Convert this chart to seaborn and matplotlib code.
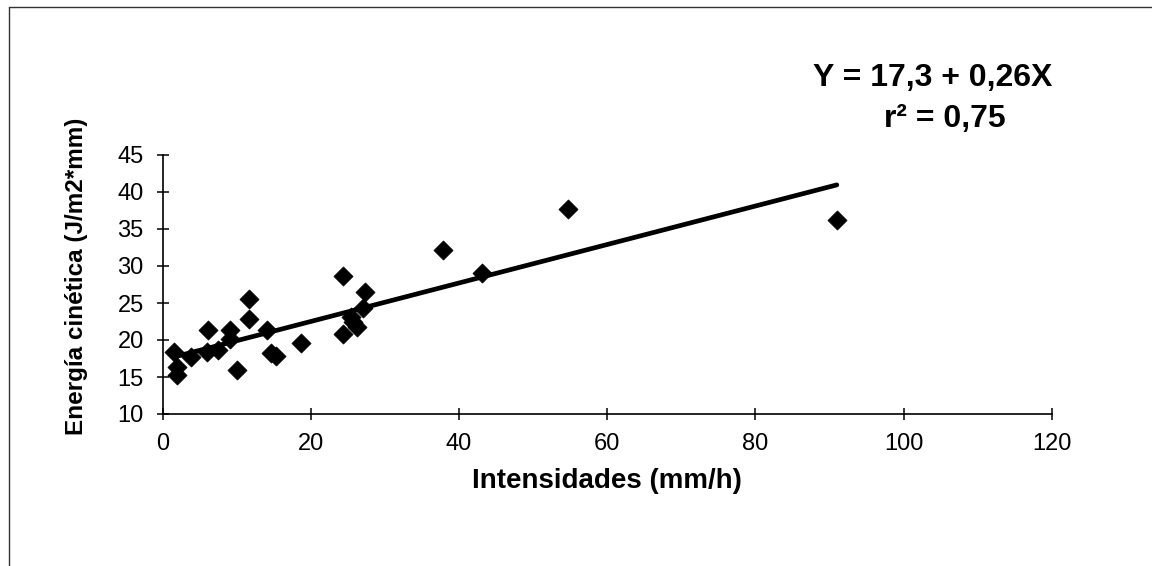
import matplotlib
matplotlib.use("Agg")
import matplotlib.pyplot as plt
from matplotlib.lines import Line2D
import numpy as np
import pandas as pd
import seaborn as sns

# ---- data ----
intensidad = [1.5, 1.9, 2.0, 3.9, 6.2, 6.0, 7.5, 9.1, 9.1, 10.1, 11.7, 11.7,
              14.1, 14.7, 15.3, 18.7, 24.4, 24.4, 25.5, 25.7, 26.2, 27.1, 27.3,
              37.9, 43.1, 54.7, 91.0]
energia = [18.4, 16.4, 15.3, 17.7, 21.4, 18.4, 18.6, 21.4, 20.1, 16.0, 25.6, 22.9,
           21.4, 18.3, 17.9, 19.6, 28.6, 20.8, 23.1, 22.5, 21.7, 24.3, 26.5,
           32.2, 29.0, 37.7, 36.2]
intercept = 17.3
slope = 0.26
x_ticks = [0, 20, 40, 60, 80, 100, 120]
y_ticks = [10, 15, 20, 25, 30, 35, 40, 45]
eq_text = "Y = 17,3 + 0,26X"
r2_text = "r² = 0,75"
x_title = "Intensidades (mm/h)"
y_title = "Energía cinética (J/m2*mm)"

sns.set_theme(style="white")
plt.rcParams["font.family"] = ["Liberation Sans", "DejaVu Sans"]

df = pd.DataFrame({"x": intensidad, "y": energia})
xline = np.array([min(intensidad), max(intensidad)])
line_df = pd.DataFrame({"x": xline, "y": intercept + slope * xline})

W, H = 1152, 566
fig = plt.figure(figsize=(W / 100, H / 100), dpi=100)
fig.patch.set_facecolor("white")
x0, x1 = 162.5, 1051.7
y0, y1 = 414, 155
ax = fig.add_axes([x0 / W, 1 - y0 / H, (x1 - x0) / W, (y0 - y1) / H])
ax.set_facecolor("white")

sns.lineplot(data=line_df, x="x", y="y", ax=ax, color="black", linewidth=3.4)
sns.scatterplot(data=df, x="x", y="y", ax=ax, marker="D", s=95, color="black",
                edgecolor="black", linewidth=0.5, zorder=3)

ax.set_xlim(0, 120)
ax.set_ylim(10, 45)
ax.set_xticks(x_ticks)
ax.set_yticks(y_ticks)
ax.set_xticklabels([str(t) for t in x_ticks])
ax.set_yticklabels([str(t) for t in y_ticks])
for s in ["top", "right"]:
    ax.spines[s].set_visible(False)
for s in ["left", "bottom"]:
    ax.spines[s].set_color("black")
    ax.spines[s].set_linewidth(1.2)
ax.tick_params(axis="x", direction="inout", length=9, width=1.1, color="black",
               labelsize=17, pad=9, labelcolor="black", bottom=True)
ax.tick_params(axis="y", direction="inout", length=9, width=1.1, color="black",
               labelsize=17, pad=9, labelcolor="black", left=True)

ax.set_xlabel(x_title, fontsize=20, fontweight="bold", color="black")
ax.set_ylabel(y_title, fontsize=17.5, fontweight="bold", color="black")
ax.xaxis.set_label_coords(0.5, -(468 - y0) / (y0 - y1))
ax.yaxis.set_label_coords(-(x0 - 88) / (x1 - x0), 0.53)

fig.text(933 / W, 1 - 78 / H, eq_text, ha="center", va="center",
         fontsize=23, fontweight="bold", color="black")
fig.text(945 / W, 1 - 119 / H, r2_text, ha="center", va="center",
         fontsize=23, fontweight="bold", color="black")

# outer frame (left and top edges visible in the scan)
fig.add_artist(Line2D([9 / W, 9 / W], [0, 1 - 7 / H], transform=fig.transFigure,
                      color="#333333", linewidth=1.0))
fig.add_artist(Line2D([9 / W, 1], [1 - 7 / H, 1 - 7 / H], transform=fig.transFigure,
                      color="#333333", linewidth=1.0))

fig.savefig("out.png", dpi=100, facecolor="white")
